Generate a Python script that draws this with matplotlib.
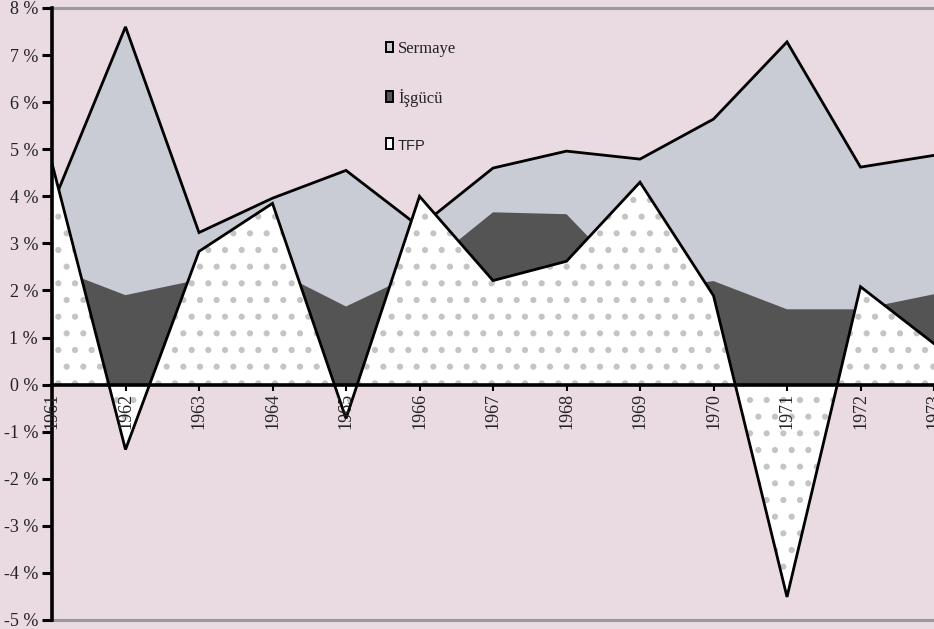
import matplotlib
matplotlib.use("Agg")
import matplotlib.pyplot as plt
from matplotlib.patches import Patch
import numpy as np

years = [1961, 1962, 1963, 1964, 1965, 1966, 1967, 1968, 1969, 1970, 1971, 1972, 1973]
sermaye = [3.8, 7.6, 3.23, 3.96, 4.55, 3.35, 4.6, 4.96, 4.79, 5.64, 7.28, 4.62, 4.87]
isgucu = [2.5, 1.9, 2.23, 2.45, 1.66, 2.4, 3.66, 3.62, 2.0, 2.2, 1.6, 1.6, 1.92]
tfp = [4.7, -1.38, 2.83, 3.85, -0.72, 4.0, 2.21, 2.62, 4.30, 1.89, -4.51, 2.08, 0.87]
labels = ["Sermaye", "İşgücü", "TFP"]
yticks = [8, 7, 6, 5, 4, 3, 2, 1, 0, -1, -2, -3, -4, -5]
ytick_labels = [f"{v} %" for v in yticks]

bg = "#EADAE1"
light = "#C9CCD5"
dark = "#545454"

plt.rcParams["hatch.linewidth"] = 2.0

W, H = 934, 629
fig = plt.figure(figsize=(W / 100, H / 100), dpi=100)
fig.patch.set_facecolor(bg)
ax = fig.add_axes([52 / W, 1 - 620 / H, (934 - 52) / W, (620 - 8) / H])
ax.set_facecolor(bg)

x = np.array(years, dtype=float)
ax.fill_between(x, 0, sermaye, facecolor=light, edgecolor="none", zorder=1)
ax.fill_between(x, 0, isgucu, facecolor=dark, edgecolor="none", zorder=2)
ax.plot(x, sermaye, color="black", lw=2.0, zorder=3, solid_joinstyle="miter")
ax.fill_between(x, 0, tfp, facecolor="white", edgecolor="#c4c4c4", linewidth=0,
                hatch=".", zorder=4)
ax.plot(x, tfp, color="black", lw=2.0, zorder=5, solid_joinstyle="miter")

ax.set_xlim(1961, 1973)
ax.set_ylim(-5, 8)

# top and bottom gray borders
ax.axhline(8, color="#9a9a9a", lw=2.2, zorder=6, clip_on=False)
ax.axhline(-5, color="#9a9a9a", lw=2.2, zorder=6, clip_on=False)

for s in ["top", "right"]:
    ax.spines[s].set_visible(False)
ax.spines["left"].set_linewidth(2.6)
ax.spines["left"].set_color("black")
ax.spines["left"].set_zorder(7)
ax.spines["bottom"].set_position(("data", 0))
ax.spines["bottom"].set_linewidth(2.6)
ax.spines["bottom"].set_color("black")
ax.spines["bottom"].set_zorder(7)
ax.xaxis.set_zorder(8)
ax.yaxis.set_zorder(8)

ax.set_yticks(yticks)
ax.set_yticklabels(ytick_labels, fontfamily="Liberation Serif", fontsize=13, color="#222222")
ax.tick_params(axis="y", direction="out", length=7, width=2.2, pad=3)

ax.set_xticks(years)
ax.set_xticklabels([str(y) for y in years], rotation=90, fontfamily="Liberation Serif",
                   fontsize=13, color="#222222", va="top", ha="center")
ax.tick_params(axis="x", direction="out", length=4, width=1.5, pad=2)

handles = [Patch(facecolor=light, edgecolor="black", linewidth=1.4),
           Patch(facecolor=dark, edgecolor="black", linewidth=1.4),
           Patch(facecolor="white", edgecolor="black", linewidth=1.4)]
leg = ax.legend(handles, labels, loc="upper left",
                bbox_to_anchor=((386 - 52) / (934 - 52), 1 - (41 - 8) / 612),
                frameon=False, handlelength=0.42, handleheight=0.6, handletextpad=0.3,
                labelspacing=1.9, fontsize=12, borderaxespad=0, borderpad=0)
for t, fam, fs in zip(leg.get_texts(), ["Liberation Serif", "Liberation Serif", "Liberation Sans"],
                      [12, 12, 10.5]):
    t.set_fontfamily(fam)
    t.set_fontsize(fs)
    t.set_color("#222222")
leg.set_zorder(10)

fig.savefig("out.png", dpi=100, facecolor=bg)
